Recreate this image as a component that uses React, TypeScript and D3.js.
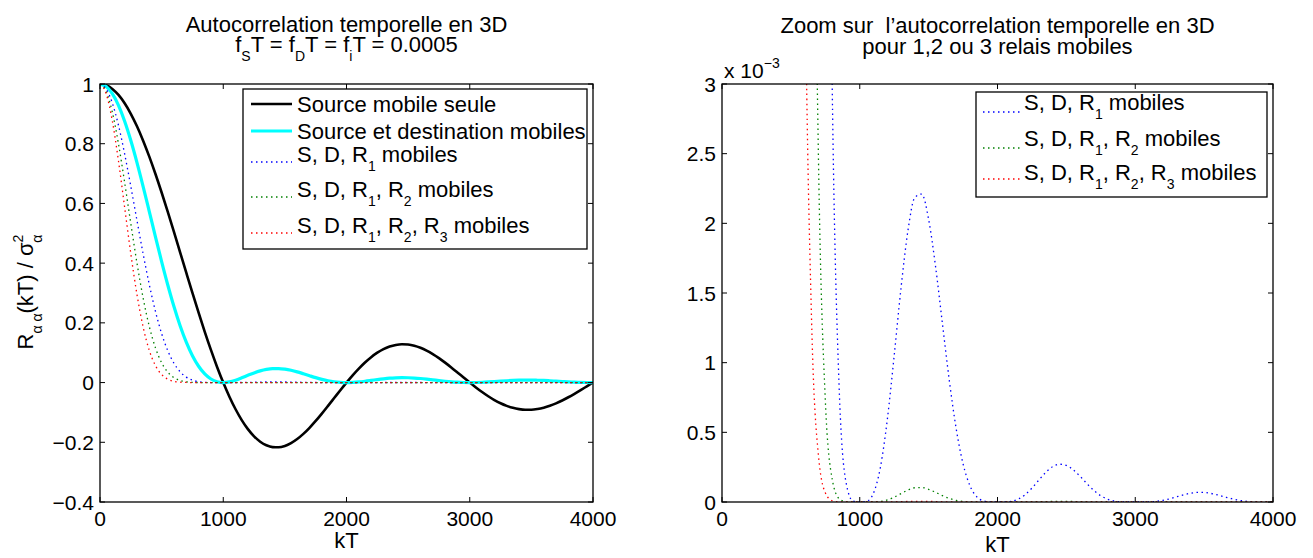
import React from "react";
import * as d3 from "d3";

// ---------- data ----------
const kT = [
  0, 50, 100, 150, 200, 250, 300, 350, 400, 450, 500, 550, 600, 650, 700, 750, 800, 850, 900, 950,
  1000, 1050, 1100, 1150, 1200, 1250, 1300, 1350, 1400, 1450, 1500, 1550, 1600, 1650, 1700, 1750, 1800, 1850, 1900, 1950,
  2000, 2050, 2100, 2150, 2200, 2250, 2300, 2350, 2400, 2450, 2500, 2550, 2600, 2650, 2700, 2750, 2800, 2850, 2900, 2950,
  3000, 3050, 3100, 3150, 3200, 3250, 3300, 3350, 3400, 3450, 3500, 3550, 3600, 3650, 3700, 3750, 3800, 3850, 3900, 3950,
  4000,
];

const sourceSeule = [
  1, 0.9959, 0.9836, 0.9634, 0.9355, 0.9003, 0.8584, 0.8103, 0.7568, 0.6987, 0.6366, 0.5716, 0.5046, 0.4363, 0.3679, 0.3001, 0.2339, 0.17, 0.1093, 0.0524,
  0, -0.0474, -0.0894, -0.1257, -0.1559, -0.1801, -0.1981, -0.2101, -0.2162, -0.2168, -0.2122, -0.2028, -0.1892, -0.1719, -0.1515, -0.1286, -0.1039, -0.0781, -0.0518, -0.0255,
  0, 0.0243, 0.0468, 0.0672, 0.0851, 0.1, 0.112, 0.1207, 0.1261, 0.1283, 0.1273, 0.1233, 0.1164, 0.107, 0.0954, 0.0819, 0.0668, 0.0507, 0.0339, 0.0169,
  0, -0.0163, -0.0317, -0.0459, -0.0585, -0.0693, -0.078, -0.0847, -0.089, -0.0911, -0.091, -0.0886, -0.0841, -0.0777, -0.0696, -0.06, -0.0492, -0.0375, -0.0252, -0.0126,
  0,
];

const sourceDest = [
  1, 0.9918, 0.9675, 0.9281, 0.8751, 0.8106, 0.7368, 0.6566, 0.5728, 0.4881, 0.4053, 0.3268, 0.2546, 0.1904, 0.1353, 0.0901, 0.0547, 0.0289, 0.0119, 0.0027,
  0, 0.0022, 0.008, 0.0158, 0.0243, 0.0324, 0.0392, 0.0441, 0.0468, 0.047, 0.045, 0.0411, 0.0358, 0.0295, 0.0229, 0.0165, 0.0108, 0.0061, 0.0027, 0.0007,
  0, 0.0006, 0.0022, 0.0045, 0.0072, 0.01, 0.0125, 0.0146, 0.0159, 0.0165, 0.0162, 0.0152, 0.0136, 0.0115, 0.0091, 0.0067, 0.0045, 0.0026, 0.0012, 0.0003,
  0, 0.0003, 0.001, 0.0021, 0.0034, 0.0048, 0.0061, 0.0072, 0.0079, 0.0083, 0.0083, 0.0078, 0.0071, 0.006, 0.0048, 0.0036, 0.0024, 0.0014, 0.0006, 0.0002,
  0,
];

const sdR1 = [
  1, 0.98367, 0.93611, 0.86144, 0.76587, 0.65704, 0.54292, 0.43116, 0.32809, 0.23825, 0.16425, 0.10677, 0.064806, 0.036245, 0.018317, 0.008113, 0.002991, 0.000835, 0.000143, 0.0000076,
  0, 0.0000051, 0.0000639, 0.0002493, 0.000591, 0.0010512, 0.0015398, 0.0019482, 0.0021865, 0.00221, 0.002028, 0.0016925, 0.0012816, 0.000873, 0.0005265, 0.0002737, 0.0001167, 0.0000372, 0.0000072, 0.0000004,
  0, 0.0000004, 0.0000048, 0.0000204, 0.0000523, 0.0001002, 0.0001571, 0.0002122, 0.0002532, 0.0002711, 0.0002628, 0.000231, 0.0001838, 0.0001312, 0.0000828, 0.0000449, 0.0000199, 0.0000066, 0.0000013, 0.0000001,
  0, 0.0000001, 0.000001, 0.0000044, 0.0000117, 0.000023, 0.0000371, 0.0000514, 0.0000629, 0.000069, 0.0000684, 0.0000615, 0.00005, 0.0000364, 0.0000235, 0.000013, 0.0000059, 0.000002, 0.0000004, 0,
  0,
];

const sdR1R2 = [
  1, 0.9756, 0.90571, 0.79954, 0.67024, 0.53258, 0.40004, 0.28311, 0.18793, 0.11629, 0.066567, 0.034887, 0.016498, 0.0069, 0.002479, 0.00073074, 0.00016358, 0.0000241, 0.0000017, 0,
  0, 0, 0.0000005, 0.0000039, 0.0000144, 0.0000341, 0.0000604, 0.000086, 0.0001022, 0.0001039, 0.0000913, 0.0000696, 0.0000459, 0.0000258, 0.0000121, 0.0000045, 0.0000013, 0.0000002, 0, 0,
  0, 0, 0, 0, 0.0000004, 0.000001, 0.000002, 0.0000031, 0.000004, 0.0000045, 0.0000043, 0.0000035, 0.0000025, 0.0000015, 0.0000008, 0.0000003, 0.0000001, 0, 0, 0,
  0, 0, 0, 0, 0, 0, 0, 0.0000004, 0.0000005, 0.0000006, 0.0000006, 0.0000005, 0.0000004, 0, 0, 0, 0, 0, 0, 0,
  0,
];

const sdR1R2R3 = [
  1, 0.96761, 0.8763, 0.74208, 0.58656, 0.4317, 0.29476, 0.1859, 0.10764, 0.056763, 0.026978, 0.0114, 0.0042, 0.0013137, 0.00033551, 0.0000658, 0.000009, 0.0000007, 0, 0,
  0, 0, 0, 0, 0.0000003, 0.0000011, 0.0000024, 0.0000038, 0.0000048, 0.0000049, 0.0000041, 0.0000029, 0.0000016, 0.0000008, 0.0000003, 0.0000001, 0, 0, 0, 0,
  0, 0, 0, 0, 0, 0, 0, 0, 0, 0, 0, 0, 0, 0, 0, 0, 0, 0, 0, 0,
  0, 0, 0, 0, 0, 0, 0, 0, 0, 0, 0, 0, 0, 0, 0, 0, 0, 0, 0, 0,
  0,
];

const xTicks = [0, 1000, 2000, 3000, 4000];
const leftYTicks = [-0.4, -0.2, 0, 0.2, 0.4, 0.6, 0.8, 1];
const leftYLabels = ["\u22120.4", "\u22120.2", "0", "0.2", "0.4", "0.6", "0.8", "1"];
const rightYTicks = [0, 0.0005, 0.001, 0.0015, 0.002, 0.0025, 0.003];
const rightYLabels = ["0", "0.5", "1", "1.5", "2", "2.5", "3"];

// ---------- styles ----------
const FONT = "'Liberation Sans', Arial, Helvetica, sans-serif";
const FS = 21; // tick labels
const TFS = 22; // titles, legend, axis labels
const SUBFS = 14;

type Seg = { t: string; s?: "sub" | "sup"; dx?: number };

const seriesLeft = [
  { name: "sourceSeule", values: sourceSeule, color: "#000000", width: 2.6, dash: null as string | null },
  { name: "sourceDest", values: sourceDest, color: "#00ffff", width: 3.2, dash: null as string | null },
  { name: "sdR1", values: sdR1, color: "#0000ff", width: 1.3, dash: "1.5 3.5" },
  { name: "sdR1R2", values: sdR1R2, color: "#008000", width: 1.3, dash: "1.5 3.5" },
  { name: "sdR1R2R3", values: sdR1R2R3, color: "#ff0000", width: 1.3, dash: "1.5 3.5" },
];
const seriesRight = seriesLeft.slice(2);

const legendLeft: Seg[][] = [
  [{ t: "Source mobile seule" }],
  [{ t: "Source et destination mobiles" }],
  [{ t: "S, D, R" }, { t: "1", s: "sub" }, { t: " mobiles" }],
  [{ t: "S, D, R" }, { t: "1", s: "sub" }, { t: ", R" }, { t: "2", s: "sub" }, { t: " mobiles" }],
  [{ t: "S, D, R" }, { t: "1", s: "sub" }, { t: ", R" }, { t: "2", s: "sub" }, { t: ", R" }, { t: "3", s: "sub" }, { t: " mobiles" }],
];
const legendRight = legendLeft.slice(2);

function Rich({ x, y, segs, anchor = "start", fs = TFS, transform }: { x: number; y: number; segs: Seg[]; anchor?: string; fs?: number; transform?: string }) {
  let cur = 0;
  return (
    <text x={x} y={y} fontSize={fs} textAnchor={anchor} transform={transform} style={{ whiteSpace: "pre" }}>
      {segs.map((sg, i) => {
        const target = sg.s === "sub" ? 9 : sg.s === "sup" ? -10 : 0;
        const dy = target - cur;
        cur = target;
        return (
          <tspan key={i} dy={dy} dx={sg.dx || 0} fontSize={sg.s ? SUBFS : fs}>
            {sg.t}
          </tspan>
        );
      })}
    </text>
  );
}

function Panel({
  box, yDomain, yTicks, yLabels, series, clipId,
}: {
  box: { x0: number; x1: number; y0: number; y1: number };
  yDomain: [number, number];
  yTicks: number[];
  yLabels: string[];
  series: typeof seriesLeft;
  clipId: string;
}) {
  const x = d3.scaleLinear().domain([0, 4000]).range([box.x0, box.x1]);
  const y = d3.scaleLinear().domain(yDomain).range([box.y1, box.y0]);
  const TL = 5;
  return (
    <g>
      <defs>
        <clipPath id={clipId}>
          <rect x={box.x0} y={box.y0} width={box.x1 - box.x0} height={box.y1 - box.y0} />
        </clipPath>
      </defs>
      <g clipPath={`url(#${clipId})`}>
        {series.map((s) => {
          const line = d3
            .line<number>()
            .x((_, i) => x(kT[i]))
            .y((d) => y(d))
            .curve(d3.curveMonotoneX);
          return (
            <path key={s.name} d={line(s.values) || ""} fill="none" stroke={s.color} strokeWidth={s.width}
              strokeDasharray={s.dash || undefined} strokeLinejoin="round" />
          );
        })}
      </g>
      {xTicks.map((t) => (
        <g key={"xt" + t}>
          <line x1={x(t)} x2={x(t)} y1={box.y1} y2={box.y1 - TL} stroke="#000" strokeWidth={1} />
          <line x1={x(t)} x2={x(t)} y1={box.y0} y2={box.y0 + TL} stroke="#000" strokeWidth={1} />
          <text x={x(t)} y={box.y1 + 24} fontSize={FS} textAnchor="middle">{String(t)}</text>
        </g>
      ))}
      {yTicks.map((t, i) => (
        <g key={"yt" + t}>
          <line x1={box.x0} x2={box.x0 + TL} y1={y(t)} y2={y(t)} stroke="#000" strokeWidth={1} />
          <line x1={box.x1} x2={box.x1 - TL} y1={y(t)} y2={y(t)} stroke="#000" strokeWidth={1} />
          <text x={box.x0 - 6} y={y(t) + 7.5} fontSize={FS} textAnchor="end">{yLabels[i]}</text>
        </g>
      ))}
      <rect x={box.x0} y={box.y0} width={box.x1 - box.x0} height={box.y1 - box.y0} fill="none" stroke="#000" strokeWidth={1.3} />
    </g>
  );
}

export default function App() {
  const L = { x0: 100, x1: 593, y0: 84, y1: 502 };
  const R = { x0: 722, x1: 1273, y0: 84, y1: 502 };
  const lcx = (L.x0 + L.x1) / 2;
  const rcx = (R.x0 + R.x1) / 2;

  const leftRows = [104, 131, 162, 197, 233];
  const leftBase = [112, 139, 162, 197, 233];
  const rightRows = [112, 148, 179];
  const rightBase = [110, 146, 180];

  return (
    <svg width={1313} height={558} style={{ position: "absolute", left: 0, top: 0, background: "#fff" }}
      fontFamily={FONT} fill="#000">
      <rect x={0} y={0} width={1313} height={558} fill="#fff" />
      {/* Left panel */}
      <Panel box={L} yDomain={[-0.4, 1]} yTicks={leftYTicks} yLabels={leftYLabels} series={seriesLeft} clipId="clipL" />
      <text x={lcx} y={32} fontSize={TFS} textAnchor="middle">Autocorrelation temporelle en 3D</text>
      <Rich x={lcx} y={52} anchor="middle" segs={[
        { t: "f" }, { t: "S", s: "sub" }, { t: "T = f" }, { t: "D", s: "sub" }, { t: "T = f" }, { t: "i", s: "sub" }, { t: "T = 0.0005" },
      ]} />
      <text x={lcx} y={548} fontSize={TFS} textAnchor="middle">kT</text>
      <Rich x={0} y={0} anchor="middle" transform="translate(33,292) rotate(-90)" segs={[
        { t: "R" }, { t: "\u03b1 \u03b1", s: "sub" }, { t: "(kT) / \u03c3" }, { t: "2", s: "sup" }, { t: "\u03b1", s: "sub", dx: -8 },
      ]} />
      {/* left legend */}
      <rect x={243} y={89} width={344} height={160} fill="#fff" stroke="#000" strokeWidth={1.3} />
      {seriesLeft.map((s, i) => (
        <g key={"ll" + i}>
          <line x1={251} x2={292} y1={leftRows[i]} y2={leftRows[i]} stroke={s.color} strokeWidth={s.width}
            strokeDasharray={s.dash || undefined} />
          <Rich x={297} y={leftBase[i]} segs={legendLeft[i]} />
        </g>
      ))}

      {/* Right panel */}
      <Panel box={R} yDomain={[0, 0.003]} yTicks={rightYTicks} yLabels={rightYLabels} series={seriesRight} clipId="clipR" />
      <text x={rcx} y={33} fontSize={TFS} textAnchor="middle" style={{ whiteSpace: "pre" }}>Zoom sur  l’autocorrelation temporelle en 3D</text>
      <text x={rcx} y={54} fontSize={TFS} textAnchor="middle">pour 1,2 ou 3 relais mobiles</text>
      <Rich x={724} y={78} fs={FS} segs={[{ t: "x 10" }, { t: "\u22123", s: "sup" }]} />
      <text x={rcx} y={552} fontSize={TFS} textAnchor="middle">kT</text>
      {/* right legend */}
      <rect x={976} y={92} width={291} height={105} fill="#fff" stroke="#000" strokeWidth={1.3} />
      {seriesRight.map((s, i) => (
        <g key={"rl" + i}>
          <line x1={983} x2={1020} y1={rightRows[i]} y2={rightRows[i]} stroke={s.color} strokeWidth={s.width}
            strokeDasharray={s.dash || undefined} />
          <Rich x={1024} y={rightBase[i]} segs={legendRight[i]} />
        </g>
      ))}
    </svg>
  );
}
